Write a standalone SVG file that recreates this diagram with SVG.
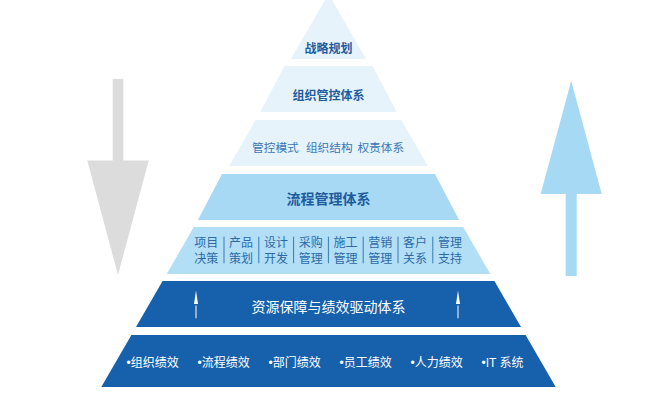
<svg xmlns="http://www.w3.org/2000/svg" width="663" height="399" viewBox="0 0 663 399">
<style>
  text { font-family: "Noto Sans CJK SC", "Noto Sans", sans-serif; }
  .pale { fill: #e6f3fb; }
  .mid { fill: #a7d9f4; }
  .mid2 { fill: #b2def6; }
  .dark { fill: #1760ab; }
  .tb { font-weight: bold; fill: #1e5c9f; text-anchor: middle; }
  .tr { fill: #3a78b6; text-anchor: middle; }
  .t5 { fill: #2c6aa7; text-anchor: middle; font-size: 12px; }
  .tw { fill: #ffffff; }
  .bul { font-family: "Liberation Sans", "Noto Sans CJK SC", sans-serif; font-size: 12px; fill: #ffffff; }
  .sep { stroke: #3a78b6; stroke-width: 1; }
</style>
<rect width="663" height="399" fill="#ffffff"/>

<g id="arrows">
  <g id="arrow-down">
    <rect x="112.7" y="79" width="10.6" height="82" fill="#dcdcdc"/>
    <polygon points="87.3,160.5 148.7,160.5 118,275" fill="#dcdcdc"/>
  </g>
  <g id="arrow-up">
    <rect x="565.7" y="193" width="11" height="83" fill="#a6d9f4"/>
    <polygon points="540.7,194 601.7,194 571.2,80.7" fill="#a6d9f4"/>
  </g>
</g>

<g id="tier1">
  <polygon class="pale" points="328.5,-6 366.1,59 290.9,59"/>
  <text class="tb" x="328.5" y="52.8" font-size="12">战略规划</text>
</g>

<g id="tier2">
  <polygon class="pale" points="284.5,66 372.5,66 396.7,112 260.3,112"/>
  <text class="tb" x="328.5" y="100" font-size="12">组织管控体系</text>
</g>

<g id="tier3">
  <polygon class="pale" points="255.7,120 401.3,120 427.9,166 229.1,166"/>
  <text class="tr" x="275.4" y="151.5" font-size="11.7">管控模式</text>
  <text class="tr" x="329.3" y="151.5" font-size="11.7">组织结构</text>
  <text class="tr" x="380.8" y="151.5" font-size="11.7">权责体系</text>
</g>

<g id="tier4">
  <polygon class="mid" points="222,174 435,174 459.1,220 197.9,220"/>
  <text class="tb" x="328.5" y="203.8" font-size="14">流程管理体系</text>
</g>

<g id="tier5">
  <polygon class="mid2" points="193.8,227 463.2,227 490.3,274 166.7,274"/>
  <g id="tier5-separators">
    <line class="sep" x1="224" y1="236.7" x2="224" y2="263.3"/>
    <line class="sep" x1="258.8" y1="236.7" x2="258.8" y2="263.3"/>
    <line class="sep" x1="293.6" y1="236.7" x2="293.6" y2="263.3"/>
    <line class="sep" x1="328.4" y1="236.7" x2="328.4" y2="263.3"/>
    <line class="sep" x1="363.2" y1="236.7" x2="363.2" y2="263.3"/>
    <line class="sep" x1="398" y1="236.7" x2="398" y2="263.3"/>
    <line class="sep" x1="432.8" y1="236.7" x2="432.8" y2="263.3"/>
  </g>
  <text class="t5" x="206.3" y="246.5">项目</text>
  <text class="t5" x="206.3" y="262.8">决策</text>
  <text class="t5" x="241.1" y="246.5">产品</text>
  <text class="t5" x="241.1" y="262.8">策划</text>
  <text class="t5" x="275.9" y="246.5">设计</text>
  <text class="t5" x="275.9" y="262.8">开发</text>
  <text class="t5" x="310.7" y="246.5">采购</text>
  <text class="t5" x="310.7" y="262.8">管理</text>
  <text class="t5" x="345.5" y="246.5">施工</text>
  <text class="t5" x="345.5" y="262.8">管理</text>
  <text class="t5" x="380.3" y="246.5">营销</text>
  <text class="t5" x="380.3" y="262.8">管理</text>
  <text class="t5" x="415.1" y="246.5">客户</text>
  <text class="t5" x="415.1" y="262.8">关系</text>
  <text class="t5" x="449.9" y="246.5">管理</text>
  <text class="t5" x="449.9" y="262.8">支持</text>
</g>

<g id="tier6">
  <polygon class="dark" points="162.6,281 494.4,281 521,327 136,327"/>
  <g id="tier6-arrows">
    <polygon points="196,290.5 198,304 194,304" fill="#ffffff"/>
    <line x1="196" y1="305.5" x2="196" y2="318.3" stroke="#ffffff" stroke-width="1"/>
    <polygon points="458,290.5 460,304 456,304" fill="#ffffff"/>
    <line x1="458" y1="305.5" x2="458" y2="318.3" stroke="#ffffff" stroke-width="1"/>
  </g>
  <text class="tw" x="328.5" y="311.5" font-size="14" text-anchor="middle">资源保障与绩效驱动体系</text>
</g>

<g id="tier7">
  <polygon class="dark" points="131.4,335 525.6,335 555.7,387 101.3,387"/>
  <text class="bul" x="126.5" y="366.8">•组织绩效</text>
  <text class="bul" x="197.5" y="366.8">•流程绩效</text>
  <text class="bul" x="268.5" y="366.8">•部门绩效</text>
  <text class="bul" x="339.5" y="366.8">•员工绩效</text>
  <text class="bul" x="410.5" y="366.8">•人力绩效</text>
  <text class="bul" x="481.5" y="366.8">•IT 系统</text>
</g>
</svg>
